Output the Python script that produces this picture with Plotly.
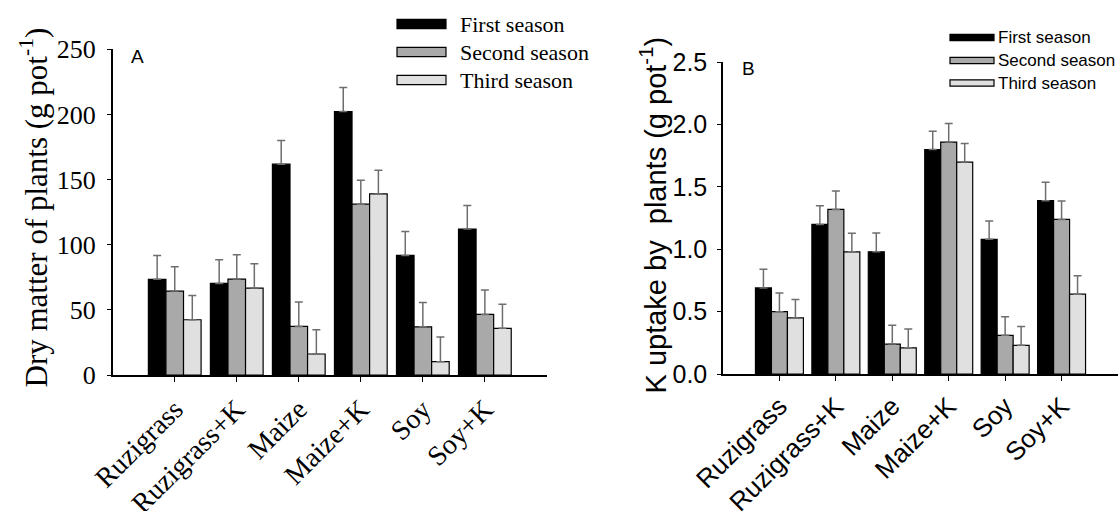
import plotly.graph_objects as go

W, H = 1119, 511

categories = ["Ruzigrass", "Ruzigrass+K", "Maize", "Maize+K", "Soy", "Soy+K"]
season_names = ["First season", "Second season", "Third season"]
season_colors = ["#000000", "#a9a9a9", "#e0e0e0"]

# Panel A: dry matter of plants (g pot-1)
dm_first = [73.4, 70.3, 161.8, 202.2, 91.8, 112.0]
dm_first_err = [18.4, 18.1, 18.2, 18.4, 18.4, 18.1]
dm_second = [64.4, 73.6, 37.3, 131.1, 37.0, 46.5]
dm_second_err = [18.6, 18.7, 18.7, 18.4, 18.7, 18.7]
dm_third = [42.4, 66.7, 16.1, 139.0, 10.2, 35.8]
dm_third_err = [18.7, 18.7, 18.7, 18.2, 18.9, 18.6]

# Panel B: K uptake by plants (g pot-1)
k_first = [0.69, 1.20, 0.98, 1.80, 1.08, 1.39]
k_first_err = [0.15, 0.15, 0.15, 0.146, 0.147, 0.147]
k_second = [0.50, 1.32, 0.24, 1.86, 0.31, 1.24]
k_second_err = [0.15, 0.148, 0.15, 0.149, 0.15, 0.147]
k_third = [0.45, 0.98, 0.21, 1.70, 0.23, 0.64]
k_third_err = [0.147, 0.148, 0.15, 0.149, 0.15, 0.148]

dm_vals = [dm_first, dm_second, dm_third]
dm_errs = [dm_first_err, dm_second_err, dm_third_err]
k_vals = [k_first, k_second, k_third]
k_errs = [k_first_err, k_second_err, k_third_err]

SERIF = "Liberation Serif, Times New Roman, serif"
SANS = "Liberation Sans, Arial, sans-serif"


def px(x):
    return x / W


def py(y):
    return 1 - y / H


fig = go.Figure()

for vals, errs, xa, ya in [(dm_vals, dm_errs, "x", "y"), (k_vals, k_errs, "x2", "y2")]:
    for i in range(3):
        fig.add_trace(go.Bar(
            x=categories, y=vals[i], name=season_names[i],
            xaxis=xa, yaxis=ya, offsetgroup=str(i),
            marker=dict(color=season_colors[i], line=dict(color="#000000", width=1.2)),
            error_y=dict(type="data", array=errs[i], arrayminus=[0] * len(errs[i]),
                         symmetric=False, color="#6e6e6e", thickness=1.5, width=4),
            showlegend=False,
        ))

axis_common = dict(showgrid=False, zeroline=False, showline=True, linecolor="#000000",
                   linewidth=1.5, ticks="outside", tickcolor="#000000", tickwidth=1.3,
                   automargin=False)

fig.update_layout(
    width=W, height=H,
    margin=dict(l=0, r=0, t=0, b=0),
    paper_bgcolor="white", plot_bgcolor="white",
    barmode="group", bargap=0.15, bargroupgap=0,
    showlegend=False,
    xaxis=dict(domain=[px(112.7), px(546.9)], anchor="y", range=[-1, 6],
               tickangle=-45, ticklen=5,
               tickfont=dict(family=SERIF, size=28, color="#000000"), **axis_common),
    yaxis=dict(domain=[py(375), py(49.3)], anchor="x", range=[0, 250], dtick=50,
               ticklen=4, ticklabelstandoff=6,
               tickfont=dict(family=SERIF, size=26, color="#000000"),
               **axis_common),
    xaxis2=dict(domain=[px(723), px(1118)], anchor="y2", range=[-1, 6],
                tickangle=-45, ticklen=5,
                tickfont=dict(family=SANS, size=26, color="#000000"), **axis_common),
    yaxis2=dict(domain=[py(374), py(62.3)], anchor="x2", range=[0, 2.5], dtick=0.5,
                tickformat=".1f", ticklen=4, ticklabelstandoff=5,
                tickfont=dict(family=SANS, size=25, color="#000000"), **axis_common),
)

annotations = []
shapes = []

# Axis titles
annotations.append(dict(text="Dry matter of plants (g pot<sup>-1</sup>)", textangle=-90,
                        x=px(34), y=py(207.5), xref="paper", yref="paper",
                        xanchor="center", yanchor="middle", showarrow=False,
                        font=dict(family=SERIF, size=31, color="#000000")))
annotations.append(dict(text="K uptake by\u00a0 plants (g pot<sup>-1</sup>)", textangle=-90,
                        x=px(653), y=py(215.5), xref="paper", yref="paper",
                        xanchor="center", yanchor="middle", showarrow=False,
                        font=dict(family=SANS, size=29, color="#000000")))

# Panel letters
annotations.append(dict(text="A", x=px(137), y=py(56), xref="paper", yref="paper",
                        xanchor="center", yanchor="middle", showarrow=False,
                        font=dict(family=SANS, size=19, color="#000000")))
annotations.append(dict(text="B", x=px(748), y=py(69), xref="paper", yref="paper",
                        xanchor="center", yanchor="middle", showarrow=False,
                        font=dict(family=SANS, size=19, color="#000000")))

# Legends drawn as swatches + text
left_rows = [24, 52, 80]
for i, yc in enumerate(left_rows):
    shapes.append(dict(type="rect", xref="paper", yref="paper",
                       x0=px(397), x1=px(446), y0=py(yc - 4.7), y1=py(yc + 4.7),
                       fillcolor=season_colors[i], line=dict(color="#000000", width=1.2)))
    annotations.append(dict(text=season_names[i], x=px(458), y=py(yc), xref="paper",
                            yref="paper", xanchor="left", yanchor="middle", showarrow=False,
                            font=dict(family=SERIF, size=22, color="#000000")))

right_rows = [37.5, 60.5, 83]
for i, yc in enumerate(right_rows):
    shapes.append(dict(type="rect", xref="paper", yref="paper",
                       x0=px(950), x1=px(994), y0=py(yc - 3.2), y1=py(yc + 3.2),
                       fillcolor=season_colors[i], line=dict(color="#000000", width=1.2)))
    annotations.append(dict(text=season_names[i], x=px(996), y=py(yc), xref="paper",
                            yref="paper", xanchor="left", yanchor="middle", showarrow=False,
                            font=dict(family=SANS, size=17, color="#000000")))

fig.update_layout(annotations=annotations, shapes=shapes)

fig.write_html("out.html")
